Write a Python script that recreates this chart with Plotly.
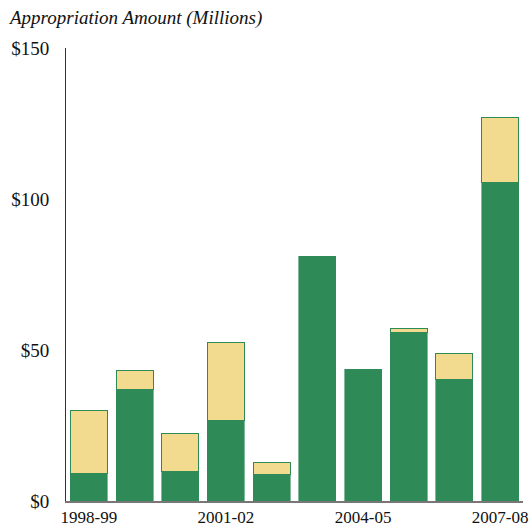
import plotly.graph_objects as go

years = ["1998-99", "1999-00", "2000-01", "2001-02", "2002-03",
         "2003-04", "2004-05", "2005-06", "2006-07", "2007-08"]
base_values = [9.2, 36.8, 9.9, 26.5, 8.9, 81.0, 43.4, 55.7, 40.1, 105.6]
total_values = [30.0, 43.3, 22.5, 52.5, 12.8, 81.0, 43.4, 57.1, 48.8, 127.0]
extra_values = [t - b for t, b in zip(total_values, base_values)]
x_tick_labels = ["1998-99", "2001-02", "2004-05", "2007-08"]
y_tick_values = [0, 50, 100, 150]
y_tick_labels = ["$0", "$50", "$100", "$150"]

GREEN = "#2E8B57"
YELLOW = "#F2DB8E"
FONT = "Palatino Linotype, Book Antiqua, Palatino, Liberation Serif, serif"

fig = go.Figure()
fig.add_trace(go.Bar(
    x=years, y=base_values, marker=dict(color=GREEN, line=dict(color="rgba(46,139,87,0.6)", width=1)),
    hoverinfo="x+y", showlegend=False))
fig.add_trace(go.Bar(
    x=years, y=extra_values, marker=dict(color=YELLOW, line=dict(color=GREEN, width=1)),
    hoverinfo="x+y", showlegend=False))

fig.update_layout(
    barmode="stack",
    bargap=0.19,
    width=530, height=531,
    margin=dict(l=66, r=7, t=48, b=30, autoexpand=False),
    plot_bgcolor="white", paper_bgcolor="white",
    font=dict(family=FONT, size=19, color="#111"),
    title=dict(text="<i>Appropriation Amount (Millions)</i>", xref="container", yref="container",
               x=10 / 530, xanchor="left", y=1 - 17 / 531, yanchor="middle",
               font=dict(family=FONT, size=19, color="#111")),
    xaxis=dict(type="category", tickmode="array", tickvals=x_tick_labels, ticktext=x_tick_labels,
               showline=True, linecolor="#777", linewidth=2, ticks="", showgrid=False,
               range=[-0.5, 9.5], tickfont=dict(size=17), automargin=False),
    yaxis=dict(range=[0, 150], tickmode="array", tickvals=y_tick_values, ticktext=y_tick_labels,
               showline=True, linecolor="#333", linewidth=1, ticks="", showgrid=False,
               zeroline=False, ticklabelstandoff=12, automargin=False),
)

fig.write_html(
    "out.html",
    config={"displayModeBar": False},
    post_script="document.body.style.margin='0';document.body.style.overflow='hidden';",
)
